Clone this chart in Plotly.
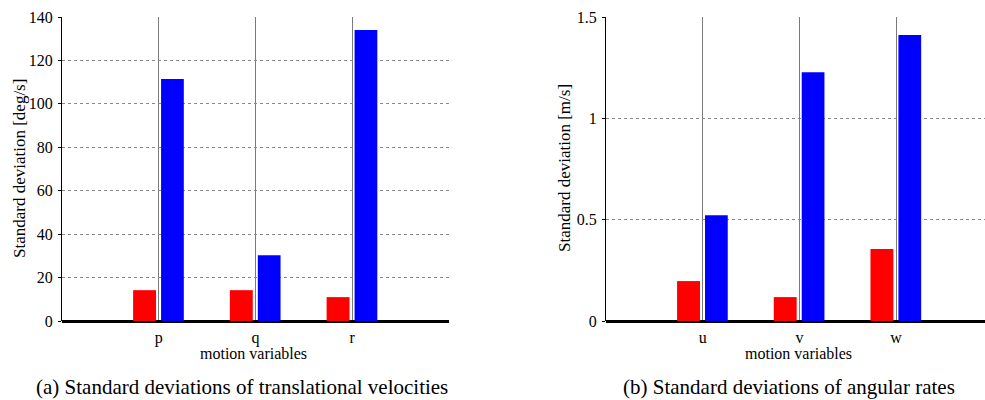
import plotly.graph_objects as go

# ---- data ----
cats_a = ["p", "q", "r"]
red_a = [14.2, 14.2, 11.0]
blue_a = [111.5, 30.3, 134.0]

cats_b = ["u", "v", "w"]
red_b = [0.197, 0.118, 0.355]
blue_b = [0.522, 1.228, 1.411]

ylabel_a = "Standard deviation [deg/s]"
ylabel_b = "Standard deviation [m/s]"
xlabel = "motion variables"
caption_a = "(a) Standard deviations of translational velocities"
caption_b = "(b) Standard deviations of angular rates"

W, H = 985, 400
FONT = "Liberation Serif"

pos = [1, 2, 3]

fig = go.Figure()
for xa, ya, reds, blues in [("x", "y", red_a, blue_a), ("x2", "y2", red_b, blue_b)]:
    fig.add_trace(go.Bar(x=pos, y=reds, width=0.237, offset=-0.265,
                         marker=dict(color="#FF0000", line=dict(width=0)),
                         xaxis=xa, yaxis=ya, showlegend=False))
    fig.add_trace(go.Bar(x=pos, y=blues, width=0.235, offset=0.024,
                         marker=dict(color="#0000FF", line=dict(width=0)),
                         xaxis=xa, yaxis=ya, showlegend=False))

ydom = [(400 - 321) / H, (400 - 17) / H]
xdom_a = [62 / W, 449 / W]
xdom_b = [606 / W, 1.0]

common_x = dict(
    tickvals=pos, showgrid=True, gridcolor="#7a7a7a", gridwidth=1,
    showline=False, zeroline=False, ticks="", ticklabelstandoff=5,
    automargin=False,
    tickfont=dict(family=FONT, size=16, color="black"),
)
common_y = dict(
    showgrid=True, gridcolor="#888888", gridwidth=1, griddash="dot",
    showline=True, linecolor="black", linewidth=1, zeroline=True,
    zerolinecolor="black", zerolinewidth=2.5, ticks="outside", ticklen=3,
    tickcolor="black", automargin=False, ticklabelstandoff=2,
    tickfont=dict(family=FONT, size=16, color="black"),
)

fig.update_layout(
    template="none",
    width=W, height=H, autosize=False,
    margin=dict(l=0, r=0, t=0, b=0),
    paper_bgcolor="white", plot_bgcolor="white",
    barmode="overlay",
    font=dict(family=FONT, color="black"),
    xaxis=dict(domain=xdom_a, range=[0, 4], ticktext=cats_a, anchor="y", **common_x),
    yaxis=dict(domain=ydom, range=[0, 140], tickvals=[0, 20, 40, 60, 80, 100, 120, 140],
               anchor="x", **common_y),
    xaxis2=dict(domain=xdom_b, range=[0, (985 - 606) / 96.7], ticktext=cats_b, anchor="y2", **common_x),
    yaxis2=dict(domain=ydom, range=[0, 1.5], tickvals=[0, 0.5, 1, 1.5],
                ticktext=["0", "0.5", "1", "1.5"], anchor="x2", **common_y),
)

def ann(x, y, text, size, angle=0):
    fig.add_annotation(x=x / W, y=1 - y / H, xref="paper", yref="paper",
                       text=text, showarrow=False, textangle=angle,
                       xanchor="center", yanchor="middle",
                       font=dict(family=FONT, size=size, color="black"))

ann(19, 169, ylabel_a, 17, -90)
ann(565, 168, ylabel_b, 17, -90)
ann(253, 353, xlabel, 16)
ann(798, 353, xlabel, 16)
ann(242, 387, caption_a, 21)
ann(789, 387, caption_b, 21)

fig.write_html("out.html")
